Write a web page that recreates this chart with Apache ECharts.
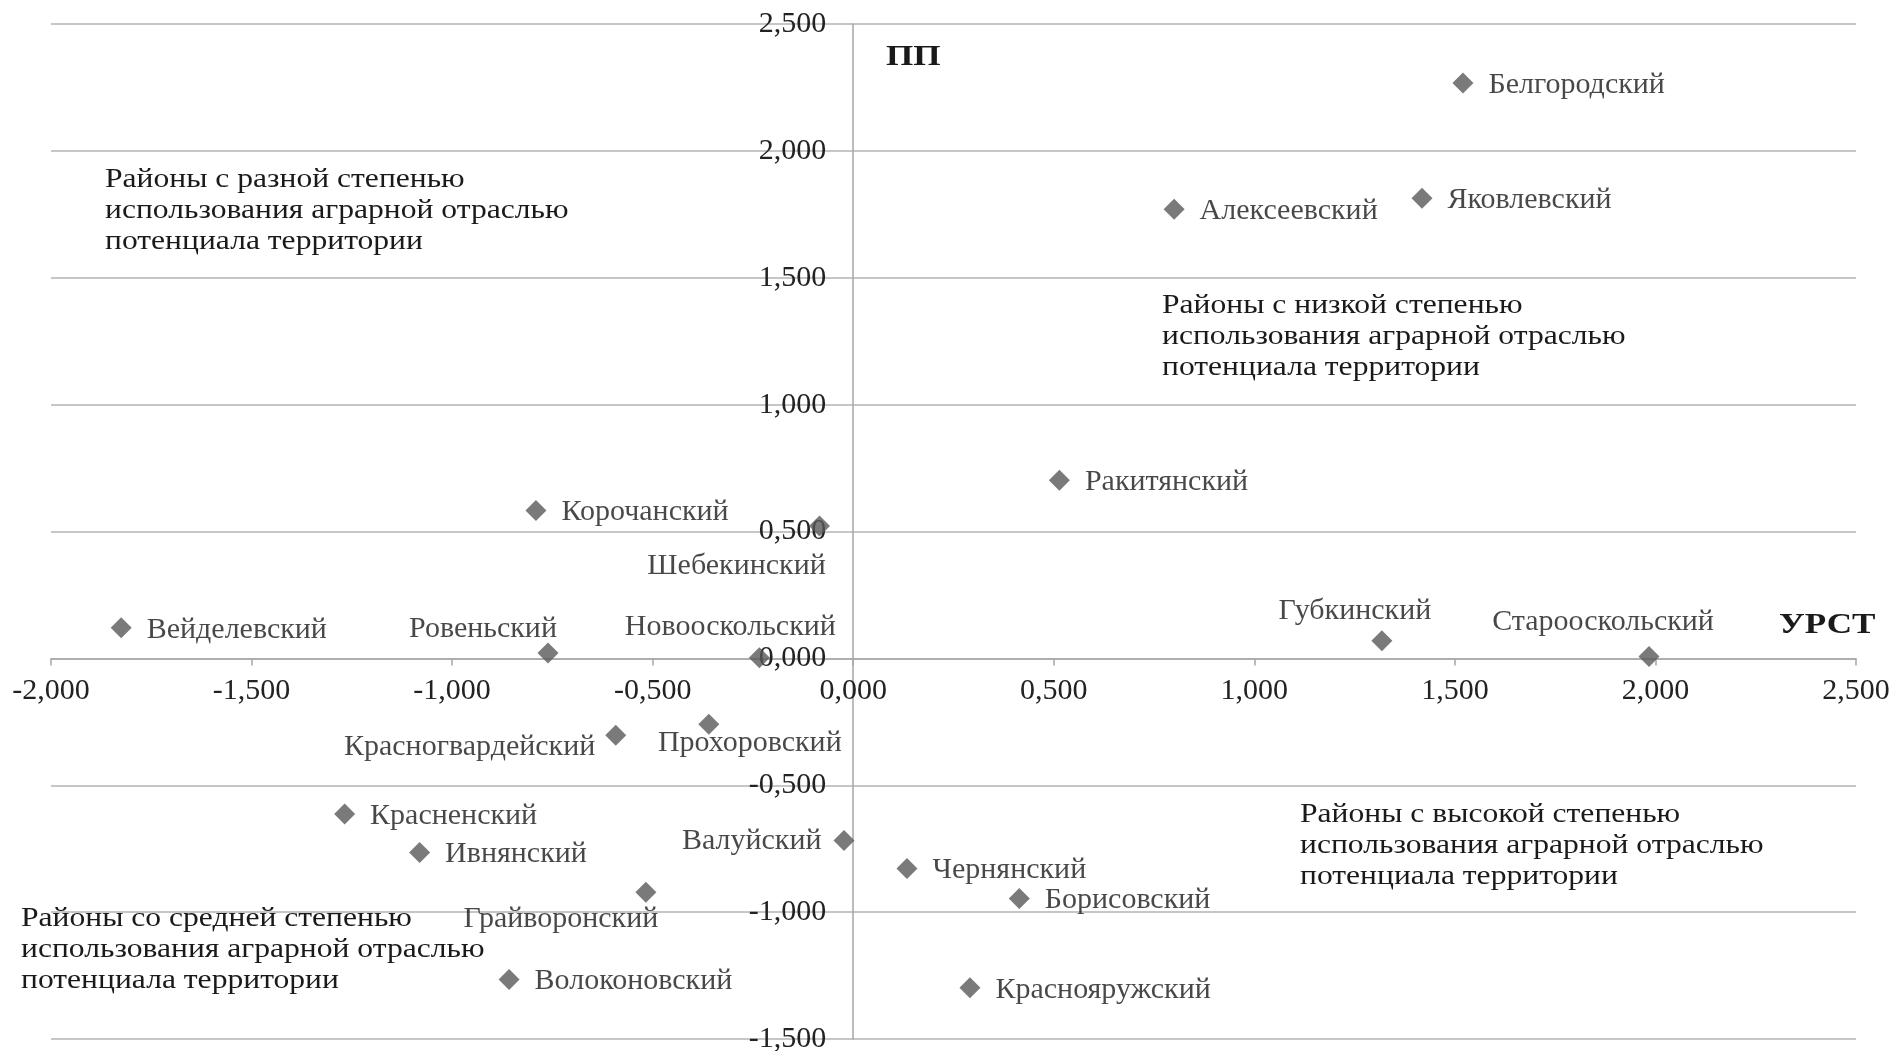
<!DOCTYPE html>
<html><head><meta charset="utf-8">
<script src="https://cdn.jsdelivr.net/npm/echarts@6/dist/echarts.min.js"></script>
<style>html,body{margin:0;padding:0;background:#fff}#c{width:1896px;height:1051px}</style>
</head><body><div id="c"></div>
<script>
const names = ['Белгородский','Алексеевский','Яковлевский','Ракитянский','Корочанский','Шебекинский','Вейделевский','Ровеньский','Новооскольский','Губкинский','Старооскольский','Красногвардейский','Прохоровский','Красненский','Ивнянский','Валуйский','Чернянский','Борисовский','Грайворонский','Волоконовский','Краснояружский'];
const urst = [1.520,0.800,1.418,0.514,-0.791,-0.084,-1.825,-0.761,-0.234,1.318,1.984,-0.592,-0.360,-1.268,-1.081,-0.023,0.134,0.414,-0.517,-0.858,0.291];
const pp   = [2.267,1.770,1.813,0.702,0.583,0.522,0.121,0.021,0.002,0.069,0.007,-0.303,-0.260,-0.613,-0.765,-0.718,-0.828,-0.946,-0.922,-1.266,-1.298];
const quadrantTexts = [
  'Районы с разной степенью\nиспользования аграрной отраслью\nпотенциала территории',
  'Районы с низкой степенью\nиспользования аграрной отраслью\nпотенциала территории',
  'Районы с высокой степенью\nиспользования аграрной отраслью\nпотенциала территории',
  'Районы со средней степенью\nиспользования аграрной отраслью\nпотенциала территории'
];
const xName = 'УРСТ', yName = 'ПП';
const xMin = -2, xMax = 2.5, yMin = -1.5, yMax = 2.5, step = 0.5;

// label layout (style only)
const labelLayout = {
  'Шебекинский': {position:'inside', offset:[-83,40]},
  'Ровеньский': {position:'inside', offset:[-65,-24]},
  'Новооскольский': {position:'inside', offset:[-29,-31]},
  'Губкинский': {position:'inside', offset:[-27,-30]},
  'Старооскольский': {position:'inside', offset:[-46,-34]},
  'Красногвардейский': {position:'left', offset:[0,12], distance:10},
  'Прохоровский': {position:'inside', offset:[41,19]},
  'Валуйский': {position:'left', offset:[0,1], distance:12},
  'Грайворонский': {position:'inside', offset:[-85,27]}
};
const FONT = '"Liberation Serif", "Times New Roman", serif';
const fmt = v => v.toFixed(3).replace('.', ',');

const W = 1896, H = 1051, gL = 51, gR = 40, gT = 24, gB = 12;
const plotW = W - gL - gR, plotH = H - gT - gB;
const yAxisOffset = -((0 - xMin) / (xMax - xMin)) * plotW;
const xAxisOffset = -((0 - yMin) / (yMax - yMin)) * plotH;

const data = names.map((n,i) => {
  const l = labelLayout[n] || {position:'right', distance:15, offset:[0,2]};
  return {name:n, value:[urst[i], pp[i]], label:Object.assign({}, l)};
});

const SX = 1.17;
function txt(x, y, text, font, lh) {
  return {type:'text', x:x, y:y, scaleX:SX, scaleY:1,
    style:{text:text, font:font, fill:'#1a1a1a', lineHeight:lh, textVerticalAlign:'top', textAlign:'left'}};
}

const chart = echarts.init(document.getElementById('c'));
chart.setOption({
  animation:false,
  grid:{left:gL, right:gR, top:gT, bottom:gB, containLabel:false, outerBoundsMode:'none'},
  xAxis:{type:'value', min:xMin, max:xMax, interval:step, offset:xAxisOffset,
    axisLine:{onZero:false, lineStyle:{color:'#a6a6a6', width:1.5}},
    axisTick:{show:true, length:7, lineStyle:{color:'#a6a6a6', width:1.5}},
    axisLabel:{formatter:fmt, fontFamily:FONT, fontSize:30, color:'#222', margin:18},
    splitLine:{show:false}},
  yAxis:{type:'value', min:yMin, max:yMax, interval:step, offset:yAxisOffset,
    axisLine:{onZero:false, lineStyle:{color:'#a6a6a6', width:1.5}},
    axisTick:{show:false},
    axisLabel:{formatter:fmt, fontFamily:FONT, fontSize:30, color:'#222', margin:27},
    splitLine:{show:true, lineStyle:{color:'#b3b3b3', width:1.5}}},
  series:[{type:'scatter', symbol:'diamond', symbolSize:21,
    itemStyle:{color:'#595959'},
    label:{show:true, formatter:'{b}', fontFamily:FONT, fontSize:30, color:'#1a1a1a'},
    data:data}],
  graphic:[
    txt(886, 40, yName, 'bold 30px ' + FONT, 34),
    txt(1779, 608, xName, 'bold 30px ' + FONT, 34),
    txt(105, 164, quadrantTexts[0], '27px ' + FONT, 31),
    txt(1162, 290, quadrantTexts[1], '27px ' + FONT, 31),
    txt(1300, 799, quadrantTexts[2], '27px ' + FONT, 31),
    txt(21, 903, quadrantTexts[3], '27px ' + FONT, 31)
  ]
});
</script></body></html>
